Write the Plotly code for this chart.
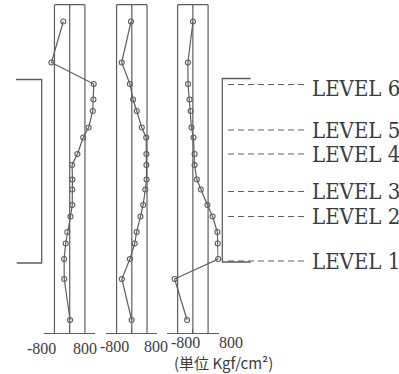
import plotly.graph_objects as go

# Depth of each measuring point (m, downward from the top gauge)
depth = [0.0, 4.1, 6.25, 7.8, 8.95, 10.6, 11.6, 13.25, 14.35, 15.8,
         16.8, 18.35, 19.5, 21.05, 22.2, 23.75, 25.75, 29.85]

# Stress readings for the three sections (Kgf/cm2)
stress_a = [-200, -570, 750, 740, 720, 590, 420, 240, 75, 85,
            80, 80, 25, -75, -125, -175, -170, 10]
stress_b = [-25, -315, -60, 40, 155, 310, 450, 455, 455, 460,
            420, 355, 270, 150, 90, -60, -310, -5]
stress_c = [5, -155, -150, -105, -70, -45, 20, 55, 55, 125,
            250, 455, 615, 765, 775, 790, -570, -180]

# Allowable stress band drawn as a box in every section
allow = 475
axis_ticks = [-800, 0, 800]
label_vals = [-800, 800]
label_text = ["-800", "800"]

# Strut levels and the wall span they belong to
level_names = ["LEVEL 1", "LEVEL 2", "LEVEL 3", "LEVEL 4", "LEVEL 5", "LEVEL 6"]
level_depth = [23.95, 19.5, 17.0, 13.25, 10.85, 6.3]
wall_span = [5.8, 24.15]

unit_label = "(単位 Kgf/cm²)"

W, H = 399, 374
INK = "#5e5e5e"
TXT = "#3c3c3c"
LEVEL_FONT = "DejaVu Serif Condensed, Liberation Serif, serif"
TICK_FONT = "Liberation Serif, serif"


def px(x):
    return x / W


def py(y):
    return 1 - y / H


fig = go.Figure()

series = [stress_a, stress_b, stress_c]
x_domains = [[px(44.05), px(95.35)], [px(106.15), px(157.45)], [px(167.2), px(218.5)]]
# horizontal nudges of the -800 / 800 labels, and their baseline row
label_nudge = [[-2.5, -10.5], [8.5, -1], [18.5, 12]]
label_row = [348, 346, 342.5]

for i, vals in enumerate(series):
    xa = "x" if i == 0 else f"x{i + 1}"
    fig.add_trace(go.Scatter(
        x=vals, y=depth, xaxis=xa, yaxis="y", mode="lines+markers",
        line=dict(color=INK, width=1.2),
        marker=dict(symbol="circle-open", size=5, color=INK, line=dict(width=1.1)),
        cliponaxis=False, showlegend=False, hoverinfo="skip",
    ))
    key = "xaxis" if i == 0 else f"xaxis{i + 1}"
    fig.layout[key] = dict(
        domain=x_domains[i], anchor="y", range=[-800, 800],
        showgrid=False, zeroline=False, showline=True, linecolor=INK, linewidth=1.2,
        ticks="inside", ticklen=4, tickwidth=1.2, tickcolor=INK,
        tickvals=axis_ticks, showticklabels=False,
    )
    for v, t, dx in zip(label_vals, label_text, label_nudge[i]):
        fig.add_annotation(xref=xa, yref="paper", x=v, y=py(label_row[i]), text=t,
                           showarrow=False, xanchor="center", yanchor="middle", xshift=dx,
                           borderpad=0,
                           font=dict(family=TICK_FONT, size=16, color=TXT))
    # allowable band: two side lines, centre line and top cap
    for xv in (-allow, 0, allow):
        fig.add_shape(type="line", xref=xa, yref="y domain", x0=xv, x1=xv, y0=0, y1=1,
                      line=dict(color=INK, width=1.2))
    fig.add_shape(type="line", xref=xa, yref="y domain", x0=-allow, x1=allow, y0=1, y1=1,
                  line=dict(color=INK, width=1.2))

fig.update_layout(
    yaxis=dict(domain=[py(333), py(4.7)], range=[31.15, -1.68], visible=False),
)

# wall span brackets on both sides
fig.add_shape(type="path", xref="paper", yref="y",
              path=f"M {px(16)},{wall_span[0]} L {px(41.7)},{wall_span[0]} "
                   f"L {px(41.7)},{wall_span[1]} L {px(16.7)},{wall_span[1]}",
              line=dict(color=INK, width=1.3))
fig.add_shape(type="path", xref="paper", yref="y",
              path=f"M {px(250.7)},{wall_span[0] - 0.1} L {px(222.3)},{wall_span[0] - 0.1} "
                   f"L {px(222.3)},{wall_span[1] - 0.1} L {px(250.7)},{wall_span[1] - 0.1}",
              line=dict(color=INK, width=1.3))

# strut level leaders and names
for name, d in zip(level_names, level_depth):
    fig.add_shape(type="line", xref="paper", yref="y", x0=px(228), x1=px(306), y0=d, y1=d,
                  line=dict(color=INK, width=1.2, dash="6px,4px"))
    fig.add_annotation(xref="paper", yref="y", x=px(310), y=d, text=name, showarrow=False,
                       xanchor="left", yanchor="middle",
                       yshift=-4 if name == "LEVEL 6" else 0,
                       font=dict(family=LEVEL_FONT, size=22, color=TXT))

fig.add_annotation(xref="paper", yref="paper", x=px(173), y=py(362.5), text=unit_label,
                   showarrow=False, xanchor="left", yanchor="middle", borderpad=0,
                   font=dict(family="Noto Sans CJK JP", size=15, color=TXT))

fig.update_layout(
    width=W, height=H, margin=dict(l=0, r=0, t=0, b=0),
    paper_bgcolor="white", plot_bgcolor="white",
)

fig.write_html("out.html")
